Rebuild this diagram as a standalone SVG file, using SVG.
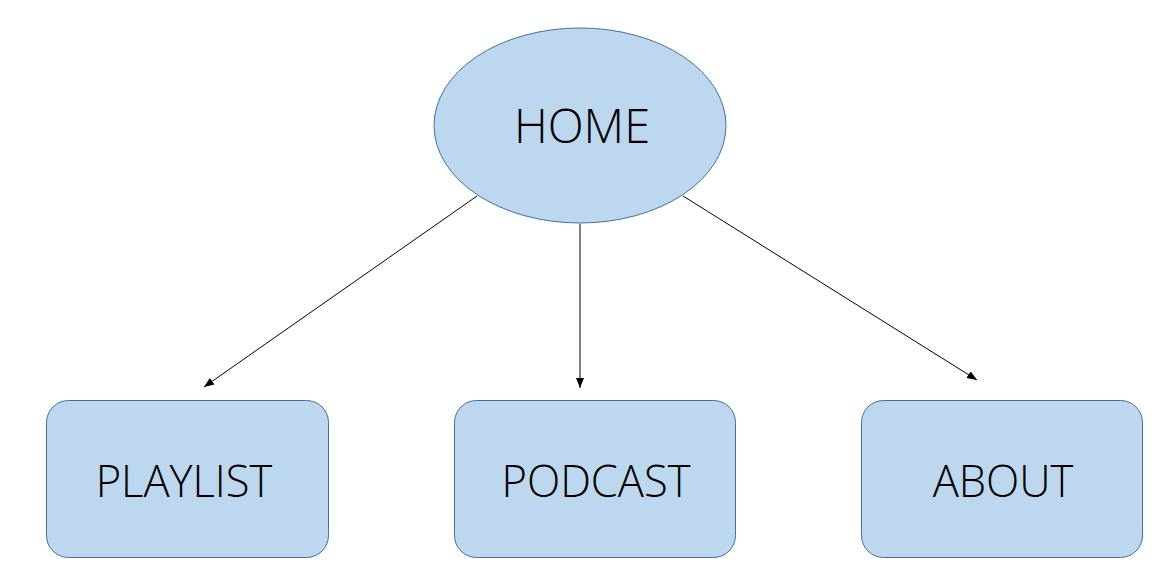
<svg xmlns="http://www.w3.org/2000/svg" width="1172" height="588" viewBox="0 0 1172 588">
<style>
.shape{fill:#bdd7ee;stroke:#41719c;stroke-width:1}
.lbl{font-family:"Open Sans","Noto Sans",sans-serif;font-weight:350;fill:#000;text-anchor:middle}
.conn{stroke:#000;stroke-width:1;fill:none;marker-end:url(#arr)}
</style>
<defs>
<marker id="arr" viewBox="0 0 10 10" refX="10" refY="5" markerWidth="10" markerHeight="10" markerUnits="userSpaceOnUse" orient="auto">
<path d="M0,1 L10,5 L0,9 Z" fill="#000"/>
</marker>
</defs>
<rect width="1172" height="588" fill="#fff"/>
<g id="connectors">
<line class="conn" x1="477" y1="196" x2="204" y2="387"/>
<line class="conn" x1="580" y1="224" x2="580" y2="388"/>
<line class="conn" x1="683" y1="196" x2="977" y2="380"/>
</g>
<g id="home">
<ellipse class="shape" cx="580" cy="125.5" rx="146" ry="97.5"/>
<text class="lbl" x="582" y="143" font-size="47">HOME</text>
</g>
<g id="playlist">
<rect class="shape" x="46.5" y="400.5" width="282" height="157" rx="22"/>
<text class="lbl" x="184" y="497" font-size="43.5">PLAYLIST</text>
</g>
<g id="podcast">
<rect class="shape" x="454.5" y="400.5" width="281" height="157" rx="22"/>
<text class="lbl" x="596" y="497" font-size="43.5">PODCAST</text>
</g>
<g id="about">
<rect class="shape" x="861.5" y="400.5" width="281" height="157" rx="22"/>
<text class="lbl" x="1003" y="497" font-size="43.5">ABOUT</text>
</g>
</svg>
